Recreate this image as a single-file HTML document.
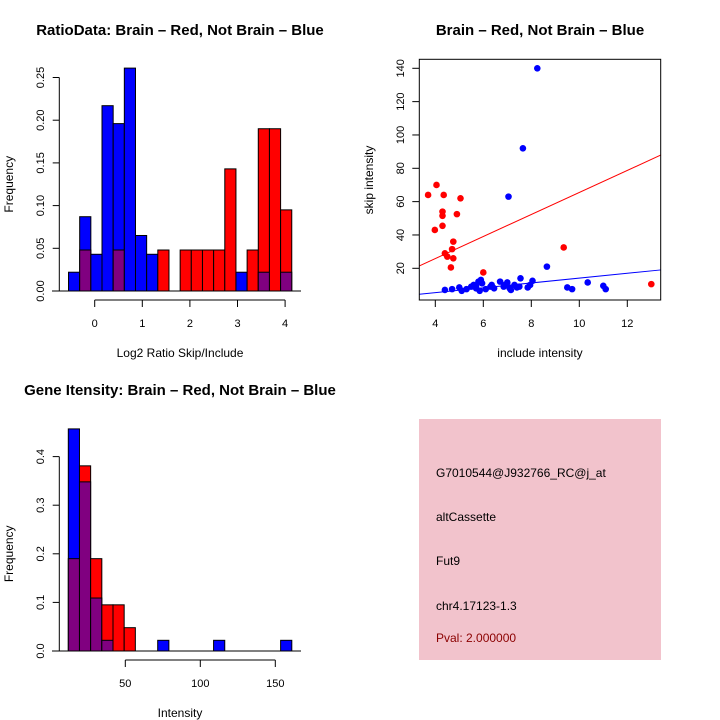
<!DOCTYPE html>
<html><head><meta charset="utf-8"><style>
body{margin:0;background:#fff;}
svg{display:block;font-family:"Liberation Sans",sans-serif;}
</style></head><body>
<svg id="svg" width="720" height="720" viewBox="0 0 720 720" xmlns="http://www.w3.org/2000/svg">
<g id="p1"></g>
<g id="p2"></g>
<g id="p3"></g>
<g>
<rect x="419" y="419" width="242" height="241" fill="#f2c3cc"/>
<text x="436" y="477" font-size="12">G7010544@J932766_RC@j_at</text>
<text x="436" y="521" font-size="12">altCassette</text>
<text x="436" y="565" font-size="12">Fut9</text>
<text x="436" y="610" font-size="12">chr4.17123-1.3</text>
<text x="436" y="642" font-size="12" fill="#8b0000">Pval: 2.000000</text>
</g>
</svg>
<script>
// ratio histogram data
const ratioBinStart = -0.55, ratioBinWidth = 0.2345;
const ratioBlue = [0.022,0.087,0.043,0.217,0.196,0.261,0.065,0.043,0,0,0,0,0,0,0,0.022,0,0.022,0,0.022];
const ratioRed  = [0,0.048,0,0,0.048,0,0,0,0.048,0,0.048,0.048,0.048,0.048,0.143,0,0.048,0.190,0.190,0.095];
const ratioXTicks = [0,1,2,3,4];
const ratioYTicks = ["0.00","0.05","0.10","0.15","0.20","0.25"];
// intensity histogram data
const intBinStart = 12, intBinWidth = 7.45;
const intBlue = [0.457,0.348,0.109,0.022,0,0,0,0,0.022,0,0,0,0,0.022,0,0,0,0,0,0.022];
const intRed  = [0.19,0.381,0.19,0.095,0.095,0.048,0,0,0,0,0,0,0,0,0,0,0,0,0,0];
const intXTicks = [50,100,150];
const intYTicks = ["0.0","0.1","0.2","0.3","0.4"];
// scatter data
const redX = [3.7,4.05,4.35,4.3,4.3,3.98,4.3,4.9,5.05,4.75,4.7,4.4,4.5,4.75,4.65,6.0,9.35,13.0];
const redY = [64,70,64,54,51.5,43,45.5,52.5,62,36,31.5,29,27,26,20.5,17.5,32.5,10.5];
const blueX = [8.25,7.65,7.05,8.65,4.4,4.7,5.0,5.1,5.3,5.5,5.6,5.7,5.8,5.85,5.9,5.95,6.1,6.3,6.35,6.45,6.7,6.85,7.0,7.1,7.15,7.3,7.5,7.55,7.85,7.95,8.05,9.5,9.7,10.35,11.0,11.1,5.7,6.9,7.4];
const blueY = [140,92,63,21,7,7.5,8.5,6.5,7.5,9,10,8,12,6.5,13,11,7.5,9,10,8,12,9,11.5,8,7,10,9,14,8.5,10,12.5,8.5,7.5,11.5,9.5,7.5,9.5,10,8.5];
const redFit = [-0.6, 6.61];
const blueFit = [-0.4, 1.45];
const scXTicks = [4,6,8,10,12];
const scYTicks = [20,40,60,80,100,120,140];

const NS="http://www.w3.org/2000/svg";
function mk(parent,tag,attrs,txt){const e=document.createElementNS(NS,tag);for(const k in attrs)e.setAttribute(k,attrs[k]);if(txt!==undefined)e.textContent=txt;parent.appendChild(e);return e;}

function hist(g,blue,red,start,width,sx,sy,xTicks,yTicks,ystep,xAxisY,title,xlabel,titleY,xlabY){
  for(let i=0;i<blue.length;i++){
    const x0=sx(start+i*width), x1=sx(start+(i+1)*width);
    const b=blue[i], r=red[i], mx=Math.max(b,r), mn=Math.min(b,r);
    if(mx<=0) continue;
    const top=mk(g,'rect',{x:x0,y:sy(mx),width:x1-x0,height:sy(0)-sy(mx),fill:b>=r?'#0000ff':'#ff0000',stroke:'#000','stroke-width':1});
    
    
    if(mn>0){
      const p=mk(g,'rect',{x:x0,y:sy(mn),width:x1-x0,height:sy(0)-sy(mn),fill:'#800080',stroke:'#000','stroke-width':1});
      
      
    }
  }
  mk(g,'line',{x1:52,x2:301,y1:sy(0),y2:sy(0),stroke:'#000'});
  const ya=mk(g,'g',{});
  
  
  mk(ya,'line',{x1:59.3,x2:59.3,y1:sy(0),y2:sy((yTicks.length-1)*ystep),stroke:'#000'});
  yTicks.forEach((t,i)=>{const y=sy(i*ystep);mk(ya,'line',{x1:52.7,x2:59.3,y1:y,y2:y,stroke:'#000'});
    const tx=mk(ya,'text',{x:0,y:0,'font-size':11,'text-anchor':'middle',transform:`translate(44,${y}) rotate(-90)`},t);
    
    });
  const xa=mk(g,'g',{});
  
  
  mk(xa,'line',{x1:sx(xTicks[0]),x2:sx(xTicks[xTicks.length-1]),y1:xAxisY,y2:xAxisY,stroke:'#000'});
  xTicks.forEach(t=>{const x=sx(t);mk(xa,'line',{x1:x,x2:x,y1:xAxisY,y2:xAxisY+7,stroke:'#000'});
    const tx=mk(xa,'text',{x:x,y:xAxisY+27,'font-size':11,'text-anchor':'middle'},t);
    
    });
  const ti=mk(g,'text',{x:180,y:titleY,'font-size':15,'font-weight':'bold','text-anchor':'middle'},title);
  
  
  const xl=mk(g,'text',{x:180,y:xlabY,'font-size':12,'text-anchor':'middle'},xlabel);
  
  
  const yl=mk(g,'text',{x:0,y:0,'font-size':12,'text-anchor':'middle',transform:`translate(13,${(sy(0)+sy((yTicks.length-1)*ystep))/2}) rotate(-90)`},'Frequency');
  
  
}

hist(document.getElementById('p1'),ratioBlue,ratioRed,ratioBinStart,ratioBinWidth,
  v=>94.7+v*47.6, v=>291-v*854, ratioXTicks, ratioYTicks, 0.05, 300,
  'RatioData: Brain \u2013 Red, Not Brain \u2013 Blue','Log2 Ratio Skip/Include',35,357);
hist(document.getElementById('p3'),intBlue,intRed,intBinStart,intBinWidth,
  v=>125.3+(v-50)*1.5, v=>651-v*486, intXTicks, intYTicks, 0.1, 660,
  'Gene Itensity: Brain \u2013 Red, Not Brain \u2013 Blue','Intensity',395,717);

(function(){
  const g=document.getElementById('p2');
  const sx=v=>435.3+(v-4)*24, sy=v=>268.3-(v-20)*1.6667;
  const L=419.3,R=660.7,T=59.3,B=300;
  const cp=mk(g,'clipPath',{id:'clip'});mk(cp,'rect',{x:L,y:T,width:R-L,height:B-T});
  const x0=(L-435.3)/24+4, x1=(R-435.3)/24+4;
  const rl=mk(g,'line',{x1:L,x2:R,y1:sy(redFit[0]+redFit[1]*x0),y2:sy(redFit[0]+redFit[1]*x1),stroke:'#ff0000','clip-path':'url(#clip)'});
  
  
  const bl=mk(g,'line',{x1:L,x2:R,y1:sy(blueFit[0]+blueFit[1]*x0),y2:sy(blueFit[0]+blueFit[1]*x1),stroke:'#0000ff','clip-path':'url(#clip)'});
  
  
  redX.forEach((x,i)=>{const c=mk(g,'circle',{cx:sx(x),cy:sy(redY[i]),r:3.3,fill:'#ff0000'});
    
    });
  blueX.forEach((x,i)=>{const c=mk(g,'circle',{cx:sx(x),cy:sy(blueY[i]),r:3.3,fill:'#0000ff'});
    
    });
  const fr=mk(g,'rect',{x:L,y:T,width:R-L,height:B-T,fill:'none',stroke:'#000'});
  
  
  scXTicks.forEach(t=>{const x=sx(t);mk(g,'line',{x1:x,x2:x,y1:B,y2:B+7,stroke:'#000'});
    const tx=mk(g,'text',{x:x,y:B+27,'font-size':11,'text-anchor':'middle'},t);
    
    });
  scYTicks.forEach(t=>{const y=sy(t);mk(g,'line',{x1:L-7,x2:L,y1:y,y2:y,stroke:'#000'});
    const tx=mk(g,'text',{x:0,y:0,'font-size':11,'text-anchor':'middle',transform:`translate(404,${y}) rotate(-90)`},t);
    
    });
  const ti=mk(g,'text',{x:540,y:35,'font-size':15,'font-weight':'bold','text-anchor':'middle'},'Brain \u2013 Red, Not Brain \u2013 Blue');
  
  
  const xl=mk(g,'text',{x:540,y:357,'font-size':12,'text-anchor':'middle'},'include intensity');
  
  
  const yl=mk(g,'text',{x:0,y:0,'font-size':12,'text-anchor':'middle',transform:'translate(373,180) rotate(-90)'},'skip intensity');
  
  
})();
</script>
</body></html>
